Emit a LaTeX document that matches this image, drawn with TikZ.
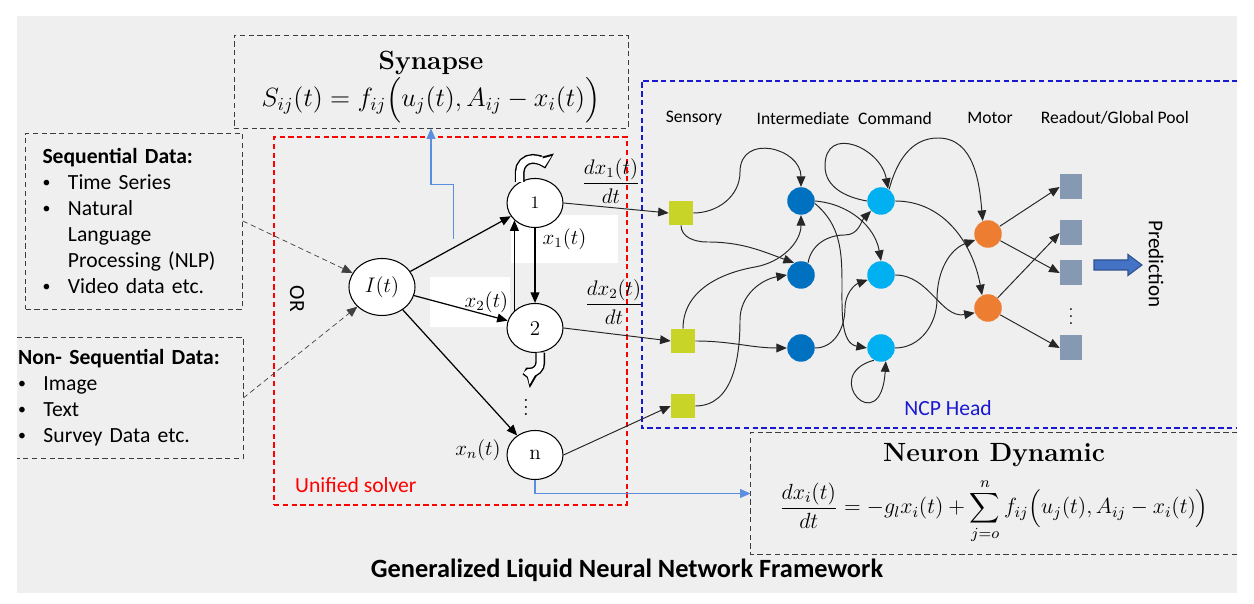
\RequirePackage{fix-cm}
\documentclass[tikz,border=0pt]{standalone}
\usepackage{amsmath}
\usepackage{fontspec}
\newfontfamily\calibri{Carlito}
\usetikzlibrary{arrows.meta,shapes.geometric}
\definecolor{panelgrey}{RGB}{239,239,239}
\definecolor{boxgrey}{RGB}{60,60,60}
\definecolor{sensorygreen}{RGB}{201,212,40}
\definecolor{interblue}{RGB}{0,112,192}
\definecolor{commandblue}{RGB}{0,176,240}
\definecolor{motororange}{RGB}{237,125,49}
\definecolor{readoutgrey}{RGB}{134,153,178}
\definecolor{linkblue}{RGB}{91,142,222}
\definecolor{headblue}{RGB}{25,25,210}
\definecolor{predfill}{RGB}{68,114,196}
\definecolor{predline}{RGB}{47,82,143}
\newcommand{\lnnbullet}{\makebox[14.5pt][l]{\raisebox{0.2ex}{\fontsize{9}{9}\selectfont\textbullet}}}
\tikzset{
  lnnpicture/.style={x=0.02cm, y=0.02cm},
  lnnbox/.style={draw=boxgrey, densely dashed, thin},
  lnninfo/.style={lnnbox, align=center, inner sep=0pt, font=\fontsize{15}{18}\selectfont},
  lnninput/.style={align=left, inner ysep=0pt, font=\calibri\fontsize{12.3}{14.8}\selectfont},
  lnnsolver/.style={draw=red, densely dashed, line width=1pt, inner sep=0pt},
  lnnhead/.style={draw=headblue, densely dashed, line width=1pt},
  lnnneuron/.style={ellipse, draw, fill=white, line width=0.6pt, inner sep=0pt, minimum width=1.12cm, minimum height=0.98cm, font=\large},
  lnnsensory/.style={rectangle, fill=sensorygreen, minimum size=0.48cm, inner sep=0pt},
  lnninter/.style={circle, fill=interblue, minimum size=0.55cm, inner sep=0pt},
  lnncommand/.style={circle, fill=commandblue, minimum size=0.55cm, inner sep=0pt},
  lnnmotor/.style={circle, fill=motororange, minimum size=0.55cm, inner sep=0pt},
  lnnreadout/.style={rectangle, fill=readoutgrey, minimum width=0.44cm, minimum height=0.5cm, inner sep=0pt},
  lnnlayer/.style={font=\calibri\fontsize{10}{12}\selectfont},
  lnnsans/.style={font=\calibri\fontsize{12.3}{14}\selectfont},
  lnnmath/.style={font=\large, inner sep=1pt},
  lnnwhite/.style={lnnmath, fill=white},
  lnnarrow/.style={-{Triangle[length=6pt,width=5pt]}, line width=0.7pt},
  lnnwire/.style={-{Triangle[length=6pt,width=5pt]}, line width=0.55pt, black!85},
  lnndata/.style={-{Triangle[length=6pt,width=5pt]}, densely dashed, line width=0.4pt, black!75},
  lnnlink/.style={-{Triangle[length=6pt,width=5pt]}, line width=0.6pt, linkblue},
  lnnturnout/.style={line width=5.6pt, -{Triangle[length=7pt,width=13.5pt]}},
  lnnturnin/.style={line width=4pt, white, shorten >=1.1pt, -{Triangle[length=4.8pt,width=10.2pt]}}
}
\begin{document}
\begin{tikzpicture}[lnnpicture]
\useasboundingbox (0,0) rectangle (1254,604);
\fill[panelgrey] (17,11) rectangle (1237,588);

\node[lnnsolver, minimum width=7.06cm, minimum height=7.36cm] (solver) at (450.5,283) {};
\node[inner sep=0pt, minimum width=11.9cm, minimum height=6.94cm] (ncp) at (939.5,349.5) {};
\draw[lnnhead] (ncp.north east) -- (ncp.north west) -- (ncp.south west) -- (ncp.south east);
\node[lnnsans, text=red, anchor=west] (solverlabel) at (289,119) {Unified solver};
\node[lnnsans, rotate=-90] (orlabel) at (297,305) {OR};
\node[lnnsans, text=headblue] (ncplabel) at (948,196) {NCP Head};

\node[lnninfo, minimum width=7.88cm, minimum height=1.86cm] (synapse) at (431,522.5)
  {\rule{0pt}{17pt}\textbf{Synapse}\\[0pt] $S_{ij}(t)=f_{ij}\Bigl(u_j(t),A_{ij}-x_i(t)\Bigr)$};
\node[lnninfo, draw=none, minimum width=9.72cm, minimum height=2.42cm] (dynamic) at (994,110.5)
  {\textbf{Neuron Dynamic}\\[6pt] {\fontsize{12.5}{15}\selectfont$\displaystyle\frac{dx_i(t)}{dt}=-g_lx_i(t)+\sum_{j=o}^{n}f_{ij}\Bigl(u_j(t),A_{ij}-x_i(t)\Bigr)$}};
\draw[lnnbox] (dynamic.north east) -- (dynamic.north west) -- (dynamic.south west) -- (dynamic.south east);

\node[lnninput, lnnbox, inner xsep=0.34cm, text width=3.66cm, minimum height=3.52cm] (seqdata) at (134,383)
  {\textbf{Sequential Data:}\\
   \lnnbullet Time Series\\
   \lnnbullet Natural\\
   \hspace*{14.5pt}Language\\
   \hspace*{14.5pt}Processing (NLP)\\
   \lnnbullet Video data etc.};
\node[lnninput, inner xsep=0.02cm, text width=4.48cm, minimum height=2.4cm] (nonseqdata) at (130,206)
  {\textbf{Non- Sequential Data:}\\
   \lnnbullet Image\\
   \lnnbullet Text\\
   \lnnbullet Survey Data etc.};
\draw[lnnbox] (nonseqdata.north west) -- (nonseqdata.north east) -- (nonseqdata.south east) -- (nonseqdata.south west);

\node[lnnwhite, minimum width=2.14cm, minimum height=0.96cm] (xone) at (564.5,365) {$x_1(t)$};
\node[lnnwhite, inner xsep=1pt, text width=1.53cm, align=right, minimum height=1cm] (xtwo) at (470,302) {$x_2(t)$};
\node[lnnmath] (xlast) at (478,154) {$x_n(t)$};
\node[lnnmath] (dxone) at (611,423) {$\dfrac{dx_1(t)}{dt}$};
\node[lnnmath] (dxtwo) at (614,302) {$\dfrac{dx_2(t)}{dt}$};

\node[lnnneuron, minimum width=1.32cm, minimum height=1.14cm] (input) at (382,317) {$I(t)$};
\node[lnnneuron, font=\normalsize] (one) at (535,401) {1};
\node[lnnneuron] (two) at (535,276) {2};
\node[lnnneuron] (last) at (535,149) {n};
\node[font=\large, inner sep=0pt] (vdots) at (526,202) {$\vdots$};

\draw[lnndata] (seqdata.east) -- (input);
\draw[lnndata] (nonseqdata.east) -- (input);
\draw[lnnarrow] (input) -- coordinate[pos=0.425] (synpoint) (one);
\draw[lnnarrow] (input) -- (two);
\draw[lnnarrow] (input) -- (last);
\draw[lnnarrow] (one.south) -- (two.north);
\draw[lnnarrow] (two.140) -- (one.220);
\draw[lnnturnout] (one.126) -- ++(0,10) arc[start angle=180, end angle=15, radius=13];
\draw[lnnturnin] (one.126) -- ++(0,10) arc[start angle=180, end angle=15, radius=13];
\draw[lnnturnout] (two.-78) -- ++(0,-10) arc[start angle=0, end angle=-120, radius=10];
\draw[lnnturnin] (two.-78) -- ++(0,-10) arc[start angle=0, end angle=-120, radius=10];
\draw[lnnlink] ([yshift=5pt]synpoint) -- ++(0,55) -| (synapse.south);
\draw[lnnlink] (last.south) |- (dynamic.west);

\node[lnnlayer] (sensorylabel) at (694,486) {Sensory};
\node[lnnlayer] (interlabel) at (803,486) {Intermediate};
\node[lnnlayer] (commandlabel) at (895,486) {Command};
\node[lnnlayer] (motorlabel) at (990,486) {Motor};
\node[lnnlayer] (readoutlabel) at (1115,486) {Readout/Global Pool};

\node[lnnsensory] (sone) at (681,391) {};
\node[lnnsensory] (stwo) at (683,263) {};
\node[lnnsensory] (sthree) at (683,198) {};
\node[lnninter] (ione) at (801,403) {};
\node[lnninter] (itwo) at (801,329) {};
\node[lnninter] (ithree) at (801,256) {};
\node[lnncommand] (cone) at (881,403) {};
\node[lnncommand] (ctwo) at (881,329) {};
\node[lnncommand] (cthree) at (881,256) {};
\node[lnnmotor] (mone) at (988,370) {};
\node[lnnmotor] (mtwo) at (988,296) {};
\node[lnnreadout] (rone) at (1071,417) {};
\node[lnnreadout] (rtwo) at (1071,371) {};
\node[lnnreadout] (rthree) at (1071,331) {};
\node[lnnreadout] (rfour) at (1071,256) {};
\node[inner sep=0pt] (rdots) at (1071,293) {$\boldsymbol{\vdots}$};

\draw[lnnwire] (one.east) -- (sone.west);
\draw[lnnwire] (two.east) -- (stwo.west);
\draw[lnnwire] (last.east) -- (sthree.west);

\draw[lnnwire] (sone.east) to[out=0,in=-90] (740,432) to[out=90,in=90,looseness=1.6] (ione.north);
\draw[lnnwire] (sone.south) to[out=-90,in=180] (707,362) to[out=0,in=160] (itwo.120);
\draw[lnnwire] (stwo.north) to[out=90,in=190] (755,337) to[out=10,in=-90] (ione.south);
\draw[lnnwire] (stwo.east) to[out=0,in=180] (ithree.west);
\draw[lnnwire] (sthree.east) to[out=0,in=-90] (740,284) to[out=90,in=190] (itwo.west);
\draw[lnnwire] (ione.east) to[out=-5,in=100] (ctwo.north);
\draw[lnnwire] (ione.-10) to[out=-40,in=90] (842,320) to[out=-90,in=170] (cthree.west);
\draw[lnnwire] (itwo.60) to[out=80,in=180] (845,369) to[out=0,in=225] (cone.225);
\draw[lnnwire] (ithree.east) to[out=0,in=-90] (845,296) to[out=90,in=200] (ctwo.200);
\draw[lnnwire] (cthree.240) .. controls +(-55,-15) and +(-5,-80) .. (cthree.290);
\draw[lnnwire] (cone.west) to[out=170,in=-90] (825,438) to[out=90,in=100,looseness=1.6] (cone.60);
\draw[lnnwire] (cone.55) to[out=75,in=180] (938,466) to[out=0,in=95] (mone.112);
\draw[lnnwire] (cone.east) to[out=0,in=100] (mtwo.115);
\draw[lnnwire] (ctwo.east) to[out=0,in=190] (mtwo.200);
\draw[lnnwire] (cthree.east) to[out=0,in=-90] (937,305) to[out=90,in=200] (mone.205);
\draw[lnnwire] (mone) -- (rone.west);
\draw[lnnwire] (mone) -- (rthree.west);
\draw[lnnwire] (mtwo) -- (rtwo.west);
\draw[lnnwire] (mtwo) -- (rfour.west);

\filldraw[fill=predfill, draw=predline, line width=0.6pt] (1094,334) -- (1128,334) -- (1128,328.5) -- (1142,339) -- (1128,349.5) -- (1128,344) -- (1094,344) -- cycle;
\node[font=\calibri\fontsize{12}{14}\selectfont, rotate=-90] (prediction) at (1156,340) {Prediction};

\node[font=\calibri\bfseries\fontsize{15}{17}\selectfont] (caption) at (627,34) {Generalized Liquid Neural Network Framework};
\end{tikzpicture}
\end{document}
